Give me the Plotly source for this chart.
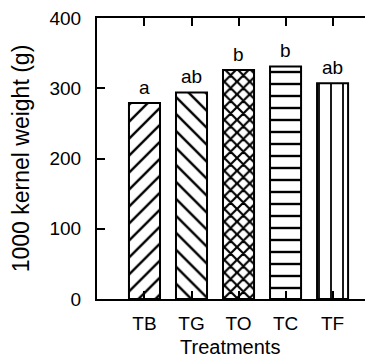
import plotly.graph_objects as go

treatments = ["TB", "TG", "TO", "TC", "TF"]
kernel_weight = [279, 294, 326, 331, 307]
letters = ["a", "ab", "b", "b", "ab"]
patterns = ["/", "\\", "x", "-", "|"]
pattern_sizes = [12, 12, 9, 12, 12]
pattern_solidity = [0.2, 0.2, 0.42, 0.2, 0.15]
y_ticks = [0, 100, 200, 300, 400]

FONT = "Liberation Sans, Arial, Helvetica, sans-serif"

fig = go.Figure()
for i, (t, v, p, s, so) in enumerate(zip(treatments, kernel_weight, patterns,
                                         pattern_sizes, pattern_solidity)):
    fig.add_trace(go.Bar(
        x=[i], y=[v], width=0.66,
        marker=dict(color="white",
                    line=dict(color="black", width=2),
                    pattern=dict(shape=p, fgcolor="black", bgcolor="white",
                                 size=s, solidity=so, fillmode="replace")),
        showlegend=False, hoverinfo="skip"))

# invisible trace to activate a right axis for inward ticks
fig.add_trace(go.Scatter(x=[0], y=[0], yaxis="y2", mode="markers",
                         marker=dict(opacity=0), showlegend=False, hoverinfo="skip"))

for i, (v, lab) in enumerate(zip(kernel_weight, letters)):
    fig.add_annotation(x=i, y=v, text=lab, showarrow=False, yanchor="bottom",
                       yshift=3, font=dict(family=FONT, size=19, color="black"))

# x-axis title
fig.add_annotation(text="Treatments", xref="paper", yref="paper", x=0.482, y=0,
                   xanchor="center", yanchor="top", yshift=-35, showarrow=False,
                   font=dict(family=FONT, size=20, color="black"))

# page body has an 8px default margin; size the figure so it fills the window
fig.update_layout(
    width=365, height=351,
    margin=dict(l=89, r=0, t=8, b=60),
    paper_bgcolor="white", plot_bgcolor="white",
    font=dict(family=FONT, size=19, color="black"),
    xaxis=dict(range=[-1.01, 4.86], tickmode="array", tickvals=list(range(len(treatments))),
               ticktext=treatments, showline=True, linecolor="black", linewidth=2,
               mirror="ticks", ticks="inside", ticklen=8, tickwidth=1.5, tickcolor="black",
               showgrid=False, zeroline=False, ticklabelstandoff=6),
    yaxis=dict(range=[0, 400], tickvals=y_ticks, showline=True, linecolor="black",
               linewidth=2, ticks="inside", ticklen=8, tickwidth=1.5, tickcolor="black",
               showgrid=False, zeroline=False, ticklabelstandoff=10,
               ticklabeloverflow="allow",
               title=dict(text="1000 kernel weight (g)", standoff=14)),
    yaxis2=dict(range=[0, 400], tickvals=y_ticks, overlaying="y", side="right",
                showline=False, ticks="inside", ticklen=3, tickwidth=1.5, tickcolor="black",
                showticklabels=False, showgrid=False, zeroline=False),
)

fig.write_html("out.html")
